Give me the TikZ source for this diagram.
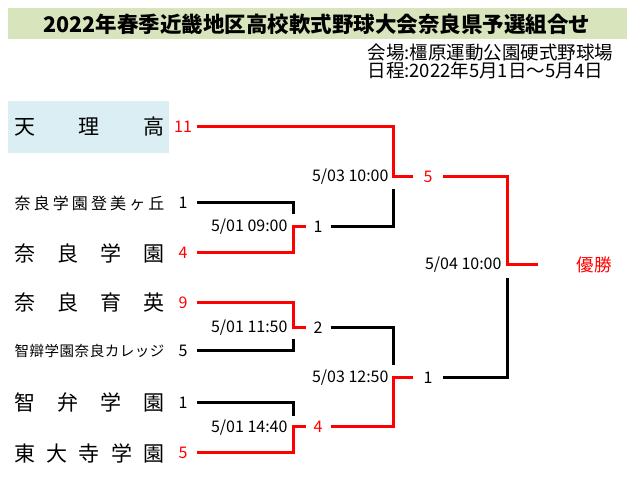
\documentclass[tikz,border=0pt]{standalone}
\usepackage{fontspec}
\setmainfont{Noto Sans CJK JP}
\usepackage{tikz}
\definecolor{titlebar}{RGB}{215,228,188}
\definecolor{seedbox}{RGB}{218,238,243}
\definecolor{winred}{RGB}{255,0,0}
\newcommand{\sizept}[1]{\fontsize{#1}{#1}\selectfont}
\newcommand{\spreadname}[1]{\makebox[150pt][s]{#1}}

\begin{document}
\begin{tikzpicture}[x=1pt, y=-1pt, line width=3pt,
    team/.style={anchor=west, inner sep=0pt, font=\sizept{21}},
    score/.style={inner sep=0pt, minimum width=24pt, font=\sizept{16}},
    date/.style={anchor=east, inner sep=0pt, font=\sizept{16}}]
    \useasboundingbox (0,0) rectangle (633,478);
    \fill[titlebar] (8,8) rectangle (627,39);
    \node[font=\sizept{21.5}\bfseries] (title) at (317,24) {2022年春季近畿地区高校軟式野球大会奈良県予選組合せ};
    \node[anchor=west, inner sep=0pt, font=\sizept{18.5}] (venue) at (366,53) {会場:橿原運動公園硬式野球場};
    \node[anchor=west, inner sep=0pt, font=\sizept{18.5}] (days) at (366,70) {日程:2022年5月1日～5月4日};

    \fill[seedbox] (8,101) rectangle (169,153);
    \node[team] (tenri) at (13,127) {\spreadname{天\hfill 理\hfill 高}};
    \node[team, font=\sizept{16}] (tomi) at (13,203) {\spreadname{奈\hfill 良\hfill 学\hfill 園\hfill 登\hfill 美\hfill ヶ\hfill 丘}};
    \node[team] (nara) at (13,253) {\spreadname{奈\hfill 良\hfill 学\hfill 園}};
    \node[team] (ikuei) at (13,303) {\spreadname{奈\hfill 良\hfill 育\hfill 英}};
    \node[team, font=\sizept{14.5}] (college) at (13,351) {\spreadname{智\hfill 辯\hfill 学\hfill 園\hfill 奈\hfill 良\hfill カ\hfill レ\hfill ッ\hfill ジ}};
    \node[team] (chiben) at (13,403) {\spreadname{智\hfill 弁\hfill 学\hfill 園}};
    \node[team] (todai) at (13,453) {\spreadname{東\hfill 大\hfill 寺\hfill 学\hfill 園}};

    \node[score, text=winred] (sTenri) at (183,127) {11};
    \node[score] (sTomi) at (183,203) {1};
    \node[score, text=winred] (sNara) at (183,253) {4};
    \node[score, text=winred] (sIkuei) at (183,303) {9};
    \node[score] (sCollege) at (183,351) {5};
    \node[score] (sChiben) at (183,403) {1};
    \node[score, text=winred] (sTodai) at (183,453) {5};

    \node[score, minimum width=22pt] (q1) at (318,227) {1};
    \node[score, minimum width=22pt] (q2) at (318,328) {2};
    \node[score, minimum width=22pt, text=winred] (q3) at (318,427) {4};
    \node[score, minimum width=27pt, text=winred] (f1) at (428,177) {5};
    \node[score, minimum width=27pt] (f2) at (428,378) {1};
    \node[anchor=west, inner sep=0pt, text=winred, font=\sizept{17.5}] (champ) at (575,265) {優勝};

    \node[date] (d1) at (289,227) {5/01 09:00};
    \node[date] (d2) at (289,328) {5/01 11:50};
    \node[date] (d3) at (289,428) {5/01 14:40};
    \node[date] (d4) at (390,177) {5/03 10:00};
    \node[date] (d5) at (390,378) {5/03 12:50};
    \node[date] (d6) at (503,265) {5/04 10:00};

    \coordinate (j1t) at (293,214); \coordinate (j1b) at (293,227);
    \coordinate (j2t) at (293,328); \coordinate (j2b) at (293,339);
    \coordinate (j3t) at (293,416); \coordinate (j3b) at (293,427);
    \coordinate (k1t) at (393,177); \coordinate (k1b) at (393,189);
    \coordinate (k2t) at (393,365); \coordinate (k2b) at (393,378);
    \coordinate (m1) at (507,265); \coordinate (m2) at (507,278);
    \coordinate (goal) at (538,265);

    \draw (sTomi.east) -| (j1t);
    \draw[winred] (sNara.east) -| (j1b) -- (q1.west);
    \draw[winred] (sIkuei.east) -| (j2t) -- (q2.west);
    \draw (sCollege.east) -| (j2b);
    \draw (sChiben.east) -| (j3t);
    \draw[winred] (sTodai.east) -| (j3b) -- (q3.west);
    \draw[winred] (sTenri.east) -| (k1t) -- (f1.west);
    \draw (q1.east) -| (k1b);
    \draw (q2.east) -| (k2t);
    \draw[winred] (q3.east) -| (k2b) -- (f2.west);
    \draw[winred] (f1.east) -| (m1) -- (goal);
    \draw (f2.east) -| (m2);
\end{tikzpicture}
\end{document}
